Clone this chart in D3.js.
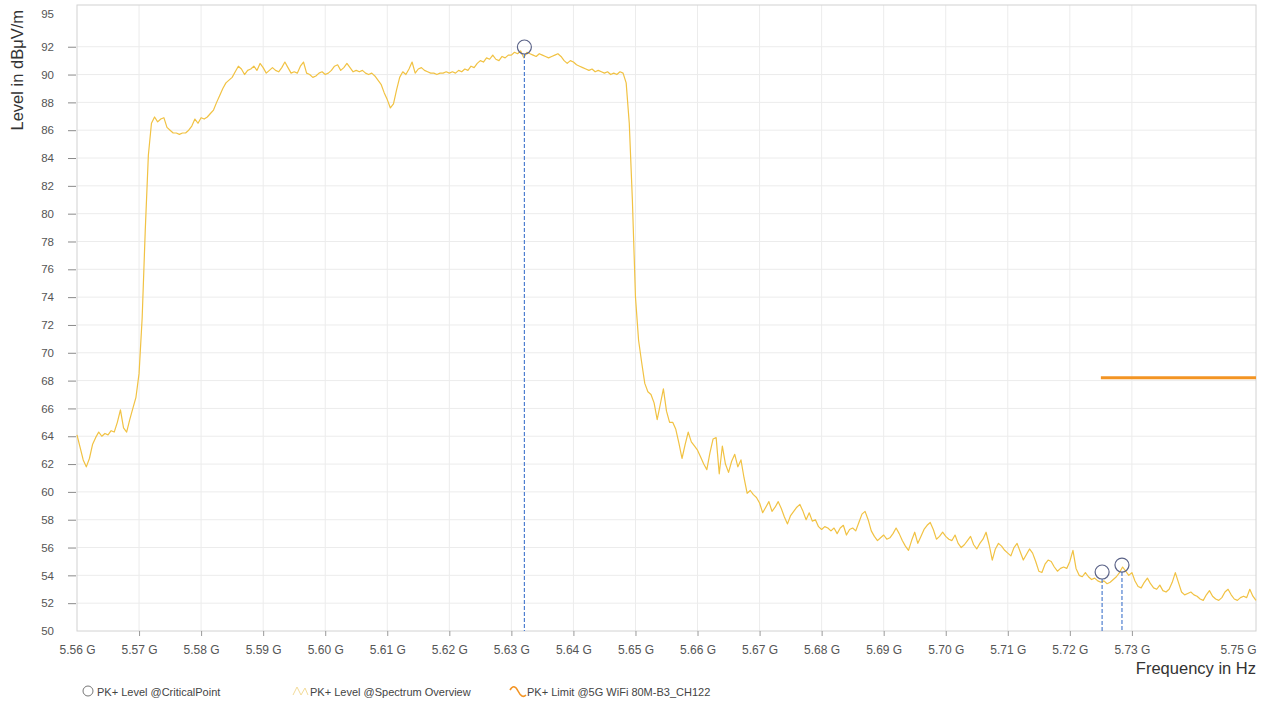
<!DOCTYPE html>
<html>
<head>
<meta charset="utf-8">
<script src="https://cdn.jsdelivr.net/npm/d3@7"></script>
<style>
  body { margin: 0; background: #fff; }
  svg { display: block; font-family: "Liberation Sans", Arial, sans-serif; }
</style>
</head>
<body>
<svg id="chart" width="1268" height="702"></svg>
<script>
// Sweep: 5.56 GHz upward in 0.5 MHz bins
const sweepStartHz = 5.56e9;
const sweepStepHz = 0.5e6;

// PK+ level (dBµV/m) per bin, one row per 10 MHz
const spectrumLevels = [
  64.1, 63.2, 62.3, 61.8, 62.4, 63.4, 63.9, 64.3, 64.0, 64.2, 64.1, 64.4, 64.3, 65.0, 65.9, 64.6, 64.3, 65.2, 66.0, 66.8,
  68.5, 72.5, 78.8, 84.2, 86.5, 86.95, 86.6, 86.8, 86.9, 86.2, 86.0, 85.8, 85.8, 85.7, 85.8, 85.8, 86.0, 86.3, 86.8, 86.5,
  86.9, 86.8, 86.95, 87.2, 87.45, 88.0, 88.5, 89.0, 89.4, 89.6, 89.8, 90.2, 90.6, 90.4, 90.0, 90.3, 90.4, 90.6, 90.3, 90.8,
  90.5, 90.1, 90.3, 90.5, 90.3, 90.2, 90.5, 90.9, 90.5, 90.1, 90.2, 90.1, 90.6, 90.9, 90.1, 90.0, 89.8, 89.9, 90.1, 90.2,
  90.0, 90.1, 90.3, 90.6, 90.7, 90.3, 90.5, 90.8, 90.5, 90.2, 90.3, 90.2, 90.3, 90.1, 90.0, 90.1, 89.9, 89.6, 89.3, 88.7,
  88.2, 87.6, 87.9, 88.9, 89.8, 90.2, 90.0, 90.4, 90.9, 90.1, 90.4, 90.5, 90.3, 90.2, 90.1, 90.1, 90.0, 90.1, 90.1, 90.2,
  90.1, 90.2, 90.1, 90.3, 90.2, 90.4, 90.3, 90.6, 90.5, 90.8, 91.0, 90.9, 91.2, 91.1, 91.4, 91.1, 91.0, 91.3, 91.2, 91.4,
  91.4, 91.6, 91.5, 91.7, 91.2, 91.6, 91.5, 91.4, 91.3, 91.5, 91.4, 91.3, 91.2, 91.3, 91.4, 91.5, 91.3, 91.0, 90.8, 91.0,
  90.9, 90.7, 90.6, 90.5, 90.4, 90.3, 90.4, 90.2, 90.3, 90.2, 90.1, 90.2, 90.0, 90.1, 90.0, 90.2, 90.1, 89.4, 86.5, 81.0,
  74.0, 70.9, 69.3, 67.8, 67.2, 67.0, 66.4, 65.2, 66.3, 67.4, 65.8, 65.0, 65.0, 64.5, 63.5, 62.4, 63.4, 64.3, 63.6, 63.3,
  63.0, 62.5, 62.0, 61.6, 62.8, 63.8, 63.9, 61.3, 63.3, 62.0, 61.4, 62.2, 62.7, 61.8, 62.3, 61.0, 59.9, 60.1, 59.8, 59.6,
  59.2, 58.5, 58.9, 59.3, 58.6, 58.9, 59.3, 58.8, 58.2, 57.7, 58.3, 58.6, 58.9, 59.1, 58.6, 58.0, 58.5, 57.9, 58.0, 57.5,
  57.3, 57.5, 57.4, 57.2, 57.4, 57.0, 57.4, 57.6, 56.9, 57.3, 57.4, 57.2, 57.8, 58.4, 58.6, 58.0, 57.2, 56.8, 56.5, 56.7,
  56.9, 56.6, 56.7, 57.0, 57.4, 57.0, 56.5, 56.1, 55.8, 56.5, 57.1, 56.3, 56.8, 57.3, 57.6, 57.8, 57.3, 56.6, 56.8, 57.1,
  56.8, 56.6, 56.5, 56.9, 56.3, 56.0, 56.2, 56.5, 56.8, 56.2, 55.9, 56.3, 56.6, 57.1, 56.2, 55.1, 55.9, 56.3, 56.1, 55.8,
  55.6, 55.4, 56.0, 56.3, 55.7, 55.1, 55.5, 55.9, 55.6, 55.0, 54.3, 54.2, 54.8, 55.1, 55.0, 54.6, 54.3, 54.5, 54.6, 54.5,
  55.0, 55.8, 54.5, 54.0, 53.9, 54.2, 53.9, 53.7, 53.8, 53.6, 53.5, 53.6, 53.4, 53.5, 53.7, 53.9, 54.2, 54.6, 54.3, 54.0,
  54.2, 53.6, 53.2, 53.1, 53.5, 53.8, 53.4, 53.1, 53.0, 53.3, 52.9, 52.8, 53.0, 53.5, 54.2, 53.5, 52.8, 52.6, 52.7, 52.8,
  52.6, 52.5, 52.3, 52.2, 52.6, 52.9, 52.5, 52.3, 52.2, 52.4, 52.8, 53.0, 52.6, 52.3, 52.2, 52.4, 52.5, 52.4, 53.0, 52.5, 52.2
];

// Critical points
const criticalFreqs = [5.6321e9, 5.7252e9, 5.7284e9];
const criticalLevels = [91.98, 54.24, 54.74];

// Limit line segment
const limitFreqs = [5.725e9, 5.75e9];
const limitLevels = [68.2, 68.2];

// Axis ticks
const xTickValues = [5.56e9, 5.57e9, 5.58e9, 5.59e9, 5.60e9, 5.61e9, 5.62e9, 5.63e9, 5.64e9, 5.65e9,
                     5.66e9, 5.67e9, 5.68e9, 5.69e9, 5.70e9, 5.71e9, 5.72e9, 5.73e9, 5.75e9];
const yTickValues = [50, 52, 54, 56, 58, 60, 62, 64, 66, 68, 70, 72, 74, 76, 78, 80, 82, 84, 86, 88, 90, 92, 95];

const legendLabels = ["PK+ Level @CriticalPoint", "PK+ Level @Spectrum Overview", "PK+ Limit @5G WiFi  80M-B3_CH122"];

const colors = { spectrum: "#f1c243", limit: "#f39423", marker: "#5b6388", markerLine: "#4f7fd0", grid: "#ececec", frame: "#d2d2d2" };

const svg = d3.select("#chart");
const plotLeft = 77, plotRight = 1256, plotTop = 5, plotBottom = 631;

const x = d3.scaleLinear().domain([5.56e9, 5.75e9]).range([plotLeft, plotRight]);
const y = d3.scaleLinear().domain([50, 95]).range([plotBottom, plotTop]);

// Grid
const grid = svg.append("g");
grid.selectAll("line.v").data(xTickValues.filter(v => v > 5.56e9 && v < 5.75e9)).join("line")
  .attr("x1", d => x(d)).attr("x2", d => x(d)).attr("y1", plotTop).attr("y2", plotBottom)
  .attr("stroke", colors.grid).attr("stroke-width", 1);
grid.selectAll("line.h").data(yTickValues.filter(v => v > 50 && v < 95)).join("line")
  .attr("x1", plotLeft).attr("x2", plotRight).attr("y1", d => y(d)).attr("y2", d => y(d))
  .attr("stroke", colors.grid).attr("stroke-width", 1);

// Frame
svg.append("rect").attr("x", plotLeft).attr("y", plotTop)
  .attr("width", plotRight - plotLeft).attr("height", plotBottom - plotTop)
  .attr("fill", "none").attr("stroke", colors.frame).attr("stroke-width", 1);

// X axis
const xAxis = svg.append("g").attr("transform", `translate(0,${plotBottom})`)
  .call(d3.axisBottom(x).tickValues(xTickValues).tickSize(5).tickPadding(9)
    .tickFormat(d => (d / 1e9).toFixed(2) + " G"));
xAxis.select(".domain").remove();
xAxis.selectAll(".tick line").attr("stroke", "#9a9a9a")
  .attr("display", d => (d === 5.56e9 || d === 5.75e9) ? "none" : null);
xAxis.selectAll(".tick text").attr("fill", "#555").attr("font-size", 12)
  .attr("text-anchor", d => d === 5.75e9 ? "end" : "middle");

// Y axis
const yAxis = svg.append("g").attr("transform", `translate(${plotLeft - 1},0)`)
  .call(d3.axisLeft(y).tickValues(yTickValues).tickSize(8).tickPadding(14));
yAxis.select(".domain").remove();
yAxis.selectAll(".tick line").attr("stroke", "#8a8a8a")
  .attr("display", d => (d === 50 || d === 95) ? "none" : null);
yAxis.selectAll(".tick text").attr("fill", "#555").attr("font-size", 11.5)
  .attr("dy", d => d === 95 ? "1.1em" : "0.32em");

// Axis titles
svg.append("text").attr("x", plotRight).attr("y", 674).attr("text-anchor", "end")
  .attr("font-size", 16.5).attr("fill", "#333").text("Frequency in Hz");
svg.append("text").attr("transform", "translate(23,10) rotate(-90)").attr("text-anchor", "end")
  .attr("font-size", 16.5).attr("fill", "#333").text("Level in dBμV/m");

// Spectrum trace
const spectrum = spectrumLevels.map((v, i) => ({ f: sweepStartHz + i * sweepStepHz, v }));
svg.append("path").datum(spectrum)
  .attr("fill", "none").attr("stroke", colors.spectrum).attr("stroke-width", 1.2).attr("stroke-linejoin", "round")
  .attr("d", d3.line().x(d => x(d.f)).y(d => y(d.v)));

// Limit line
const limit = limitFreqs.map((f, i) => ({ f, v: limitLevels[i] }));
svg.append("path").datum(limit)
  .attr("fill", "none").attr("stroke", colors.limit).attr("stroke-width", 3)
  .attr("d", d3.line().x(d => x(d.f)).y(d => y(d.v)));

// Critical points with drop lines
const critical = criticalFreqs.map((f, i) => ({ f, v: criticalLevels[i] }));
const r = 7;
svg.append("g").selectAll("line").data(critical).join("line")
  .attr("x1", d => x(d.f)).attr("x2", d => x(d.f))
  .attr("y1", d => y(d.v) + r).attr("y2", plotBottom)
  .attr("stroke", colors.markerLine).attr("stroke-width", 1.2).attr("stroke-dasharray", "4,2");
svg.append("g").selectAll("circle").data(critical).join("circle")
  .attr("cx", d => x(d.f)).attr("cy", d => y(d.v)).attr("r", r)
  .attr("fill", "none").attr("stroke", colors.marker).attr("stroke-width", 1.2);

// Legend
const ly = 692;
const legend = svg.append("g").attr("font-size", 11).attr("fill", "#444");
legend.append("circle").attr("cx", 88).attr("cy", ly - 1).attr("r", 5)
  .attr("fill", "none").attr("stroke", "#777").attr("stroke-width", 1);
legend.append("text").attr("x", 97).attr("y", ly + 3.5).text(legendLabels[0]);
legend.append("path").attr("d", `M293,${ly + 3} L297,${ly - 5} L301,${ly + 3} L305,${ly - 4} L308,${ly + 3}`)
  .attr("fill", "none").attr("stroke", "#f3dc9a").attr("stroke-width", 1);
legend.append("text").attr("x", 310).attr("y", ly + 3.5).text(legendLabels[1]);
legend.append("path").attr("d", `M510,${ly - 2} Q514,${ly - 9} 518,${ly - 1} T526,${ly + 3}`)
  .attr("fill", "none").attr("stroke", colors.limit).attr("stroke-width", 1.6);
legend.append("text").attr("x", 527).attr("y", ly + 3.5).text(legendLabels[2]);
</script>
</body>
</html>
